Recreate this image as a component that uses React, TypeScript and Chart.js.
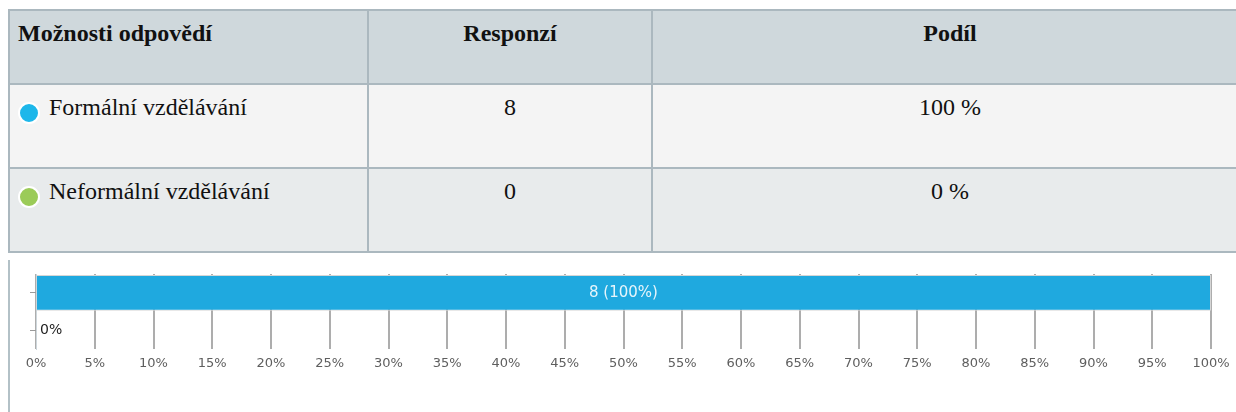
import React, { useEffect, useRef } from "react";
import { Chart, registerables } from "chart.js";

Chart.register(...registerables);

const headers = ["Možnosti odpovědí", "Responzí", "Podíl"];
const categories = ["Formální vzdělávání", "Neformální vzdělávání"];
const responses = [8, 0];
const shares = [100, 0];
const bulletColors = ["#1db7ea", "#9bcb58"];
const rowBackgrounds = ["#f4f4f4", "#e8ebec"];
const xMin = 0;
const xMax = 100;
const xStep = 5;

const BORDER = "2px solid #abb8bf";

const labelPlugin = {
  id: "barLabels",
  afterDatasetsDraw(chart: any) {
    const ctx = chart.ctx;
    const meta = chart.getDatasetMeta(0);
    ctx.save();
    ctx.textBaseline = "middle";
    meta.data.forEach((bar: any, i: number) => {
      const pct = shares[i];
      if (pct > 0) {
        ctx.font = '15px "DejaVu Sans", sans-serif';
        ctx.fillStyle = "#e6f5fb";
        ctx.textAlign = "center";
        const area = chart.chartArea;
        const cx = (bar.base + bar.x) / 2;
        ctx.fillText(`${responses[i]} (${pct}%)`, Math.min(cx, (area.left + area.right) / 2), bar.y);
      } else {
        ctx.font = '14px "DejaVu Sans", sans-serif';
        ctx.fillStyle = "#1e1e1e";
        ctx.textAlign = "left";
        ctx.fillText(`${pct}%`, bar.base + 4, bar.y);
      }
    });
    ctx.restore();
  },
};

function BarChart() {
  const ref = useRef<HTMLCanvasElement | null>(null);
  useEffect(() => {
    if (!ref.current) return;
    const chart = new Chart(ref.current, {
      type: "bar",
      data: {
        labels: categories,
        datasets: [
          {
            data: shares,
            backgroundColor: "#1fa9df",
            borderColor: "#d6d6d6",
            borderWidth: 1,
            categoryPercentage: 1,
            barPercentage: 0.95,
          },
        ],
      },
      options: {
        indexAxis: "y",
        animation: false,
        responsive: false,
        maintainAspectRatio: false,
        layout: { padding: { left: 20, right: 25, top: 14, bottom: 35 } },
        plugins: {
          legend: { display: false },
          tooltip: { enabled: false },
        },
        scales: {
          x: {
            type: "linear",
            min: xMin,
            max: xMax,
            ticks: {
              stepSize: xStep,
              padding: 6,
              color: "#5e5e5e",
              font: { family: '"DejaVu Sans", sans-serif', size: 13 },
              callback: (v: any) => `${v}%`,
            },
            grid: { color: "#adadad", lineWidth: 2, drawTicks: false },
            border: { display: false },
          },
          y: {
            type: "category",
            ticks: { display: false },
            grid: {
              drawOnChartArea: false,
              offset: false,
              tickLength: 6,
              color: "#9a9a9a",
            },
            border: { display: true, color: "#cdd6db", width: 1 },
          },
        },
      },
      plugins: [labelPlugin],
    } as any);
    return () => chart.destroy();
  }, []);
  return <canvas ref={ref} width={1226} height={152} style={{ display: "block" }} />;
}

export default function App() {
  const cell: React.CSSProperties = {
    border: BORDER,
    padding: "9px 8px 10px 8px",
    verticalAlign: "top",
  };
  return (
    <div
      style={{
        position: "fixed",
        left: 0,
        top: 0,
        width: 1236,
        height: 412,
        overflow: "hidden",
        background: "#ffffff",
      }}
    >
      <table
        style={{
          position: "absolute",
          left: 8,
          top: 9,
          borderCollapse: "collapse",
          tableLayout: "fixed",
          width: 1239,
          minWidth: 1239,
          fontFamily: '"Liberation Serif", "Times New Roman", serif',
          fontSize: 24,
          color: "#111",
        }}
      >
        <colgroup>
          <col style={{ width: 359 }} />
          <col style={{ width: 284 }} />
          <col style={{ width: 596 }} />
        </colgroup>
        <tbody>
          <tr style={{ height: 74, background: "#cfd8dc" }}>
            {headers.map((h, i) => (
              <td key={h} style={{ ...cell, fontWeight: "bold", textAlign: i === 0 ? "left" : "center" }}>
                {h}
              </td>
            ))}
          </tr>
          {categories.map((c, i) => (
            <tr key={c} style={{ height: 84, background: rowBackgrounds[i] }}>
              <td style={cell}>
                <span
                  style={{
                    display: "inline-block",
                    width: 18,
                    height: 18,
                    borderRadius: "50%",
                    border: "2px solid #ffffff",
                    background: bulletColors[i],
                    verticalAlign: -9,
                    marginRight: 9,
                  }}
                />
                {c}
              </td>
              <td style={{ ...cell, textAlign: "center" }}>{responses[i]}</td>
              <td style={{ ...cell, textAlign: "center" }}>{`${shares[i]} %`}</td>
            </tr>
          ))}
        </tbody>
      </table>
      <div
        style={{
          position: "absolute",
          top: 260,
          left: 8,
          borderLeft: "2px solid #b3c1c7",
          height: 152,
        }}
      >
        <BarChart />
      </div>
    </div>
  );
}
